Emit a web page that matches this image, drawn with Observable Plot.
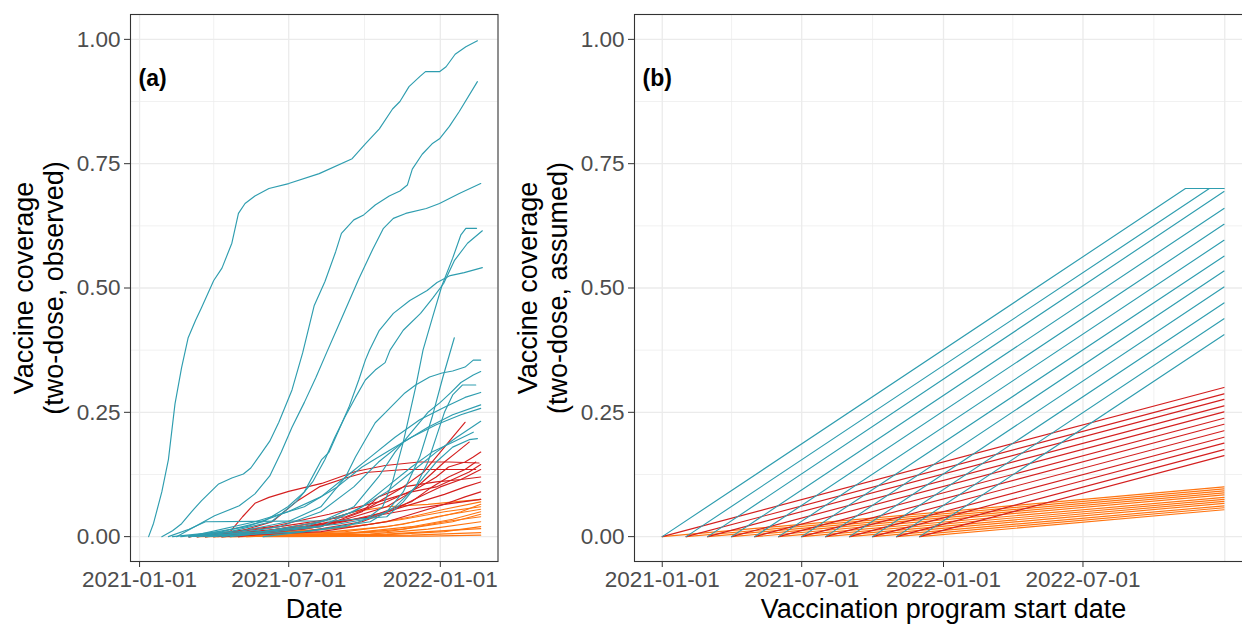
<!DOCTYPE html>
<html><head><meta charset="utf-8">
<script src="https://cdn.jsdelivr.net/npm/d3@7"></script>
<script src="https://cdn.jsdelivr.net/npm/@observablehq/plot@0.6"></script>
<style>
html,body{margin:0;padding:0;background:#fff;overflow:hidden;width:1242px;height:624px}
#wrap{position:relative;width:1242px;height:624px;overflow:hidden;background:#fff}
#a{position:absolute;left:0;top:0;width:510px;height:624px}
#b{position:absolute;left:510px;top:0;width:760px;height:624px}
#wrap svg{max-width:none !important}
</style></head><body><div id="wrap"><div id="a"></div><div id="b"></div></div>
<script>
// ---------- DATA ----------
// Panel (a): observed two-dose coverage; x = days since 2021-01-01, y = coverage
const baseDate = "2021-01-01";
const observedHigh = [
  [[11,0],[17,0.027],[27,0.09],[35,0.155],[43,0.267],[51,0.34],[59,0.40],[68,0.435],[75,0.46],[90,0.515],[100,0.54],[112,0.59],[120,0.65],[128,0.67],[140,0.685],[157,0.70],[181,0.71],[218,0.73],[258,0.76],[274,0.79],[291,0.82],[307,0.86],[316,0.875],[327,0.905],[340,0.925],[347,0.935],[364,0.935],[372,0.945],[383,0.97],[396,0.985],[410,0.997]],
  [[27,0],[40,0.012],[51,0.026],[63,0.05],[75,0.072],[96,0.106],[112,0.118],[126,0.126],[135,0.138],[147,0.166],[158,0.192],[169,0.23],[185,0.295],[198,0.37],[212,0.465],[225,0.513],[238,0.573],[245,0.61],[260,0.637],[272,0.647],[286,0.667],[303,0.685],[316,0.695],[325,0.707],[331,0.739],[343,0.769],[355,0.79],[364,0.80],[376,0.825],[388,0.855],[410,0.915]],
  [[45,0],[58,0.012],[91,0.042],[121,0.062],[140,0.086],[158,0.122],[172,0.17],[185,0.22],[200,0.27],[214,0.32],[227,0.37],[245,0.438],[266,0.518],[283,0.578],[296,0.62],[308,0.64],[323,0.65],[348,0.66],[364,0.67],[388,0.69],[414,0.71]],
  [[60,0],[150,0.01],[240,0.025],[275,0.035],[295,0.06],[307,0.11],[320,0.19],[335,0.30],[344,0.375],[355,0.438],[367,0.505],[380,0.56],[390,0.607],[396,0.62],[409,0.62]],
  [[50,0],[110,0.01],[160,0.03],[190,0.07],[210,0.11],[225,0.155],[237,0.2],[249,0.24],[262,0.28],[274,0.315],[286,0.335],[298,0.35],[304,0.375],[320,0.415],[341,0.449],[356,0.48],[369,0.509],[382,0.555],[398,0.59],[416,0.615]],
  [[40,0],[100,0.01],[150,0.03],[180,0.06],[200,0.09],[221,0.155],[230,0.17],[242,0.215],[254,0.26],[266,0.315],[274,0.355],[279,0.375],[291,0.415],[308,0.449],[328,0.475],[349,0.495],[361,0.511],[377,0.525],[394,0.531],[416,0.541]],
  [[60,0],[120,0.01],[180,0.03],[220,0.06],[250,0.12],[262,0.16],[274,0.195],[286,0.229],[298,0.249],[310,0.269],[322,0.289],[335,0.305],[352,0.321],[367,0.329],[380,0.333],[395,0.341],[405,0.355],[414,0.355]],
  [[70,0],[150,0.01],[220,0.03],[260,0.06],[290,0.12],[310,0.17],[330,0.21],[350,0.25],[365,0.27],[378,0.29],[390,0.31],[405,0.325],[414,0.332]],
  [[80,0],[200,0.01],[280,0.03],[310,0.06],[335,0.1],[350,0.15],[360,0.2],[370,0.25],[380,0.285],[392,0.305],[408,0.305]],
  [[60,0],[130,0.02],[180,0.05],[220,0.08],[250,0.12],[280,0.16],[310,0.2],[340,0.235],[370,0.26],[395,0.28],[414,0.29]],
  [[90,0],[170,0.02],[220,0.05],[260,0.1],[290,0.15],[320,0.19],[350,0.22],[380,0.245],[414,0.265]],
  [[60,0],[140,0.03],[200,0.06],[240,0.1],[270,0.14],[300,0.17],[330,0.2],[360,0.225],[390,0.245],[414,0.258]],
  [[100,0],[200,0.02],[260,0.05],[300,0.09],[330,0.13],[360,0.17],[385,0.2],[414,0.232]],
  [[110,0],[220,0.02],[270,0.06],[300,0.1],[330,0.14],[355,0.17],[380,0.19],[405,0.21]],
  [[35,0],[60,0.015],[80,0.03],[240,0.032],[300,0.04],[320,0.07],[340,0.11],[360,0.15],[380,0.18],[400,0.195],[410,0.197]],
  [[150,0],[250,0.02],[300,0.05],[320,0.09],[340,0.16],[355,0.24],[368,0.32],[382,0.40]]
];
const observedMiddle = [
  [[95,0],[110,0.01],[125,0.04],[140,0.067],[157,0.079],[181,0.091],[221,0.107],[262,0.131],[298,0.143],[339,0.15],[376,0.15],[412,0.148]],
  [[60,0],[120,0.01],[161,0.03],[190,0.07],[218,0.1],[250,0.118],[274,0.129],[322,0.135],[408,0.135]],
  [[60,0],[150,0.01],[220,0.03],[280,0.06],[320,0.1],[345,0.13],[365,0.17],[380,0.2],[395,0.23]],
  [[80,0],[180,0.015],[250,0.035],[300,0.06],[330,0.09],[350,0.12],[370,0.15],[385,0.17],[400,0.19]],
  [[70,0],[170,0.02],[250,0.04],[300,0.07],[340,0.1],[360,0.12],[375,0.14],[395,0.15],[405,0.16],[414,0.17]],
  [[90,0],[200,0.015],[280,0.04],[330,0.07],[355,0.1],[375,0.12],[395,0.135],[408,0.15]],
  [[60,0],[160,0.02],[230,0.045],[290,0.07],[330,0.09],[360,0.1],[380,0.115],[400,0.13],[414,0.145]],
  [[100,0],[200,0.01],[270,0.03],[310,0.055],[340,0.08],[365,0.1],[390,0.115],[414,0.135]],
  [[80,0],[190,0.015],[260,0.035],[300,0.05],[340,0.07],[370,0.085],[395,0.1],[414,0.11]],
  [[100,0],[220,0.01],[300,0.03],[340,0.05],[370,0.065],[395,0.08],[414,0.09]],
  [[70,0],[200,0.02],[280,0.04],[330,0.055],[370,0.065],[414,0.075]],
  [[120,0],[220,0.02],[270,0.05],[290,0.08],[320,0.1],[360,0.11],[390,0.115],[414,0.12]]
];
const observedLow = [
  [[60,0],[150,0.01],[220,0.03],[260,0.05],[300,0.06],[350,0.065],[414,0.075]],
  [[80,0],[200,0.01],[280,0.025],[330,0.04],[370,0.055],[414,0.07]],
  [[90,0],[220,0.008],[300,0.02],[350,0.035],[390,0.05],[414,0.065]],
  [[70,0],[180,0.01],[260,0.02],[320,0.035],[370,0.05],[414,0.06]],
  [[100,0],[250,0.01],[320,0.025],[360,0.04],[414,0.055]],
  [[120,0],[260,0.008],[330,0.02],[380,0.035],[414,0.05]],
  [[80,0],[240,0.005],[320,0.015],[370,0.03],[414,0.04]],
  [[100,0],[280,0.005],[350,0.015],[414,0.03]],
  [[110,0],[300,0.004],[370,0.01],[414,0.02]],
  [[130,0],[300,0.005],[370,0.012],[414,0.016]],
  [[90,0],[330,0.003],[414,0.008]],
  [[150,0],[350,0.001],[414,0.003]],
  [[70,0],[200,0.003],[300,0.01],[380,0.03],[414,0.045]]
];

// Panel (b): assumed linear coverage by programme start date
const programStarts = ["2021-01-01","2021-02-01","2021-03-01","2021-04-01","2021-05-01","2021-06-01","2021-07-01","2021-08-01","2021-09-01","2021-10-01","2021-11-01","2021-12-01"];
const programEnd = "2022-12-31";
const tealEnds   = [0.70,0.70,0.694,0.66,0.628,0.596,0.564,0.534,0.502,0.470,0.438,0.406];
const tealCaps   = [["2022-11-11",0.70],["2022-12-12",0.70]];
const redEnds    = [0.300,0.287,0.276,0.263,0.251,0.238,0.226,0.213,0.200,0.188,0.175,0.163];
const orangeEnds = [0.100,0.096,0.092,0.088,0.084,0.079,0.075,0.071,0.067,0.062,0.058,0.054];

// Axis ticks
const yMajor = [0, 0.25, 0.5, 0.75, 1];
const yMinor = [0.125, 0.375, 0.625, 0.875];
const xTicksA = ["2021-01-01","2021-07-01","2022-01-01"];
const xMinorA = ["2021-04-01","2021-10-01"];
const xTicksB = ["2021-01-01","2021-07-01","2022-01-01","2022-07-01"];
const xGridB  = ["2021-01-01","2021-07-01","2022-01-01","2022-07-01","2023-01-01"];
const xMinorB = ["2021-04-01","2021-10-01","2022-04-01","2022-10-01"];

// ---------- BUILD ----------
const parse = d3.utcParse("%Y-%m-%d");
const base = parse(baseDate);
const fmt = d3.utcFormat("%Y-%m-%d");
const TEAL = "#2E9DAF", RED = "#D41F1F", ORANGE = "#FF7410";

function rowsA(series, group) {
  return series.flatMap((pts, i) => pts.map(([d, v]) => ({id: group + i, group, date: d3.utcDay.offset(base, d), value: v})));
}
const dataA = {
  high: rowsA(observedHigh, "high"),
  middle: rowsA(observedMiddle, "middle"),
  low: rowsA(observedLow, "low")
};
function rowsB(ends, group, caps = []) {
  const out = [];
  ends.forEach((e, i) => {
    out.push({id: group + i, date: parse(programStarts[i]), value: 0});
    if (caps[i]) out.push({id: group + i, date: parse(caps[i][0]), value: caps[i][1]});
    out.push({id: group + i, date: parse(programEnd), value: e});
  });
  return out;
}
const dataB = {
  high: rowsB(tealEnds, "high", tealCaps),
  middle: rowsB(redEnds, "middle"),
  low: rowsB(orangeEnds, "low")
};

const FONT = "'Liberation Sans', Arial, Helvetica, sans-serif";
const GRID = "#EBEBEB";

function panel({width, marginLeft, marginRight, xDomain, majorX, minorX, tickX, data, label, yTitle2, xTitle}) {
  return Plot.plot({
    width, height: 624,
    marginLeft, marginRight, marginTop: 14, marginBottom: 63,
    style: {fontFamily: FONT, background: "white", overflow: "visible", maxWidth: "none"},
    x: {type: "utc", domain: xDomain.map(parse)},
    y: {domain: [-0.05, 1.05]},
    marks: [
      Plot.gridY(yMinor, {stroke: GRID, strokeOpacity: 1, strokeWidth: 0.7}),
      Plot.gridX(minorX.map(parse), {stroke: GRID, strokeOpacity: 1, strokeWidth: 0.7}),
      Plot.gridY(yMajor, {stroke: GRID, strokeOpacity: 1, strokeWidth: 1.3}),
      Plot.gridX(majorX.map(parse), {stroke: GRID, strokeOpacity: 1, strokeWidth: 1.3}),
      Plot.line(data.low, {x: "date", y: "value", z: "id", stroke: ORANGE, strokeWidth: 1.15}),
      Plot.line(data.middle, {x: "date", y: "value", z: "id", stroke: RED, strokeWidth: 1.15}),
      Plot.line(data.high, {x: "date", y: "value", z: "id", stroke: TEAL, strokeWidth: 1.15}),
      Plot.frame({stroke: "#333", strokeWidth: 1.1}),
      Plot.axisY(yMajor, {tickFormat: d3.format(".2f"), tickSize: 6, tickPadding: 4, fontSize: 22.5, color: "#4D4D4D", stroke: "#333", label: null}),
      Plot.axisX(tickX.map(parse), {tickFormat: fmt, tickSize: 6, tickPadding: 4, fontSize: 22.5, color: "#4D4D4D", stroke: "#333", label: null}),
      Plot.text([label], {text: d => d, frameAnchor: "top-left", lineAnchor: "middle", dx: 8, dy: 64, textAnchor: "start", fontWeight: "bold", fontSize: 23, fill: "black"}),
      Plot.text(["Vaccine coverage"], {text: d => d, frameAnchor: "left", lineAnchor: "middle", rotate: -90, textAnchor: "middle", dx: -106, fontSize: 27, fill: "black"}),
      Plot.text([yTitle2], {text: d => d, frameAnchor: "left", lineAnchor: "middle", rotate: -90, textAnchor: "middle", dx: -76.5, fontSize: 27, fill: "black"}),
      Plot.text([xTitle], {text: d => d, frameAnchor: "bottom", lineAnchor: "middle", textAnchor: "middle", dy: 48, fontSize: 27, fill: "black"})
    ]
  });
}

document.getElementById("a").append(panel({
  width: 510, marginLeft: 130, marginRight: 12.5,
  xDomain: ["2020-12-21", "2022-03-12"],
  majorX: xTicksA, minorX: xMinorA, tickX: xTicksA,
  data: dataA, label: "(a)", yTitle2: "(two-dose, observed)", xTitle: "Date"
}));
document.getElementById("b").append(panel({
  width: 760, marginLeft: 124, marginRight: 18,
  xDomain: ["2020-11-26", "2023-02-06"],
  majorX: xGridB, minorX: xMinorB, tickX: xTicksB,
  data: dataB, label: "(b)", yTitle2: "(two-dose, assumed)", xTitle: "Vaccination program start date"
}));
</script></body></html>
